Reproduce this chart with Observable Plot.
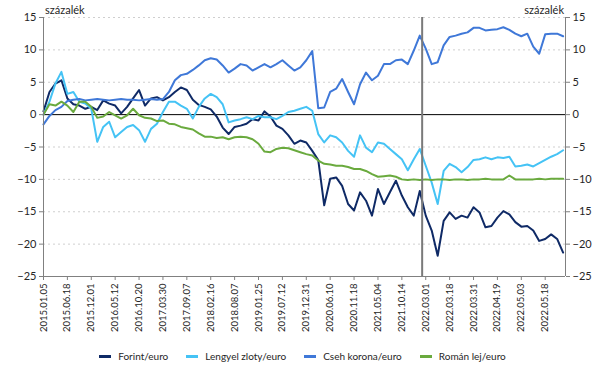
<!DOCTYPE html>
<html><head><meta charset="utf-8">
<script src="https://cdn.jsdelivr.net/npm/d3@7"></script>
<script src="https://cdn.jsdelivr.net/npm/@observablehq/plot@0.6"></script>
<style>
body{margin:0;background:#fff;font-family:Lato,"Open Sans",sans-serif;}
#wrap{position:relative;width:605px;height:370px;overflow:hidden;}
.unit{position:absolute;top:3px;font-size:11px;color:#262626;}
#legend{position:absolute;top:350px;left:0;width:605px;display:flex;justify-content:center;gap:18px;font-size:10px;color:#262626;}
.item{display:flex;align-items:center;}
.sw{width:12px;height:3px;margin-right:7px;}
</style></head><body><div id="wrap"><div id="chart"></div>
<div class="unit" style="left:45px">százalék</div>
<div class="unit" style="right:41px">százalék</div>
<div id="legend"></div></div>
<script>
// x positions are observation index (one tick label per unit)
const tickLabels = ["2015.01.05","2015.06.18","2015.12.01","2016.05.12","2016.10.20","2017.03.30","2017.09.07","2018.02.16","2018.08.07","2019.01.25","2019.07.12","2019.12.31","2020.06.10","2020.11.18","2021.05.04","2021.10.14","2022.03.01","2022.03.18","2022.03.31","2022.04.19","2022.05.03","2022.05.18"];
const step = 0.25;      // sampling step in tick-units
const xEnd = 21.85;     // last observation position
const eventIndex = 15.85; // 2022.02.24
const yTicks = [-25,-20,-15,-10,-5,0,5,10,15];

const names = ["Forint/euro","Lengyel zloty/euro","Cseh korona/euro","Román lej/euro"];
const colors = ["#0f2a66","#45c3f5","#3f78d8","#6aaa3e"];

const forint = [0.5,3.5,4.8,5.3,2.5,1.6,1.4,0.9,1.2,0.7,
2.2,1.7,1.4,0.2,1.2,2.5,3.8,1.4,2.5,2.7,
2.2,2.7,3.5,4.2,3.8,2.3,1.5,1.2,0.8,-0.3,
-2.0,-3.0,-1.9,-1.7,-1.4,-0.7,-0.9,0.5,-0.3,-1.7,
-2.2,-3.2,-4.5,-4.0,-4.3,-5.6,-7.0,-14.0,-9.9,-9.7,
-11.0,-13.8,-14.8,-12.0,-13.3,-15.6,-11.5,-13.8,-12.0,-10.2,
-12.5,-14.3,-15.6,-11.8,-15.6,-17.9,-21.8,-16.4,-15.1,-16.1,
-15.6,-15.9,-14.3,-15.1,-17.4,-17.2,-15.9,-14.9,-15.4,-16.6,
-17.3,-17.2,-17.9,-19.5,-19.2,-18.5,-19.2,-21.3];

const zloty = [0.0,2.0,4.8,6.6,3.2,3.5,2.0,1.7,0.9,-4.2,
-1.9,-1.1,-3.5,-2.7,-1.9,-1.6,-2.4,-4.2,-2.2,-1.4,
0.4,2.0,2.0,1.4,0.9,-0.6,1.2,2.5,3.2,2.7,
1.6,-1.2,-0.9,-0.7,-0.4,-0.7,-0.2,-0.4,-0.4,-0.7,
-0.2,0.4,0.6,0.9,1.2,0.6,-3.0,-4.3,-3.2,-3.5,
-4.3,-5.6,-6.5,-3.2,-5.1,-5.8,-4.3,-4.5,-5.3,-6.1,
-6.9,-8.6,-6.9,-5.3,-7.9,-10.5,-13.8,-8.7,-7.6,-8.1,
-8.9,-8.1,-7.0,-6.9,-6.6,-6.9,-6.6,-6.7,-6.5,-8.0,
-7.9,-7.7,-8.0,-7.5,-7.0,-6.5,-6.1,-5.5];

const korona = [-1.5,-0.2,0.7,1.2,2.1,2.3,2.4,2.2,2.3,2.4,
2.3,2.2,2.3,2.4,2.3,2.3,2.2,2.3,2.4,2.3,
2.4,3.5,5.3,6.1,6.3,6.9,7.6,8.4,8.7,8.5,
7.6,6.5,7.1,7.8,7.6,6.8,7.3,7.8,7.3,7.8,
8.4,7.6,6.8,7.3,8.4,9.8,1.0,1.1,3.5,4.0,
5.5,3.5,1.6,4.7,6.5,5.3,6.0,7.8,7.8,8.4,
8.5,7.8,9.9,12.2,10.2,7.8,8.1,10.7,12.0,12.2,
12.5,12.7,13.4,13.4,13.0,13.1,13.2,13.5,13.1,12.5,
12.1,12.5,10.5,9.4,12.4,12.5,12.5,12.1];

const lej = [0.0,1.6,1.4,2.0,1.4,0.4,2.0,2.0,1.2,-0.5,
-0.3,0.4,-0.1,-0.6,-0.1,0.9,-0.1,-0.5,-0.6,-1.0,
-0.9,-1.4,-1.5,-1.9,-2.1,-2.3,-2.9,-3.4,-3.4,-3.6,
-3.5,-3.8,-3.5,-3.4,-3.5,-3.8,-4.5,-5.7,-5.8,-5.3,
-5.1,-5.2,-5.5,-5.8,-6.1,-6.3,-7.1,-7.6,-7.7,-7.9,
-7.9,-8.1,-8.4,-8.4,-8.7,-9.2,-9.6,-9.5,-9.4,-9.6,
-10.0,-10.1,-10.0,-10.1,-10.0,-10.1,-10.0,-10.0,-10.1,-10.0,
-10.0,-10.1,-10.0,-10.0,-9.9,-10.0,-10.0,-10.0,-9.4,-10.0,
-10.0,-10.0,-10.0,-9.9,-10.0,-9.9,-9.9,-9.9];

const seriesValues = [forint, zloty, korona, lej];
const data = seriesValues.flatMap((vals, s) => vals.map((v, k) => ({t: k * step, v, name: names[s]})));

const axisStroke = "#808080";
const chart = Plot.plot({
  width: 605, height: 340,
  marginLeft: 43, marginRight: 40, marginTop: 17, marginBottom: 64,
  style: {fontFamily: "Lato, 'Open Sans', sans-serif", fontSize: "11px", color: "#262626", background: "#fff"},
  x: {domain: [0, xEnd]},
  y: {domain: [-25, 15]},
  color: {domain: names, range: colors},
  marks: [
    Plot.ruleY(yTicks.filter(d => d !== 0 && d !== -25), {stroke: "#cfcfcf", strokeDasharray: "2,3"}),
    Plot.ruleY([0], {stroke: "#000", strokeWidth: 1}),
    Plot.line(data, {x: "t", y: "v", z: "name", stroke: "name", strokeWidth: 2, strokeLinejoin: "round"}),
    Plot.ruleX([eventIndex], {stroke: "#7a7a7a", strokeWidth: 2}),
    Plot.ruleX([0, xEnd], {stroke: axisStroke}),
    Plot.ruleY([-25], {stroke: axisStroke}),
    Plot.axisY({anchor: "left", ticks: yTicks, tickSize: 4, tickPadding: 3, label: null, stroke: axisStroke, fill: "#262626"}),
    Plot.axisY({anchor: "right", ticks: yTicks, tickSize: 4, tickPadding: 3, label: null, stroke: axisStroke, fill: "#262626"}),
    Plot.axisX({ticks: d3.range(tickLabels.length), tickFormat: i => tickLabels[i], tickRotate: -90, tickSize: 4, tickPadding: 3, label: null, fontSize: 9.5, stroke: axisStroke, fill: "#262626"})
  ]
});
document.getElementById("chart").appendChild(chart);

const legend = document.getElementById("legend");
names.forEach((n, i) => {
  const it = document.createElement("div");
  it.className = "item";
  const sw = document.createElement("span");
  sw.className = "sw";
  sw.style.background = colors[i];
  const tx = document.createElement("span");
  tx.textContent = n;
  it.appendChild(sw); it.appendChild(tx);
  legend.appendChild(it);
});
</script></body></html>
